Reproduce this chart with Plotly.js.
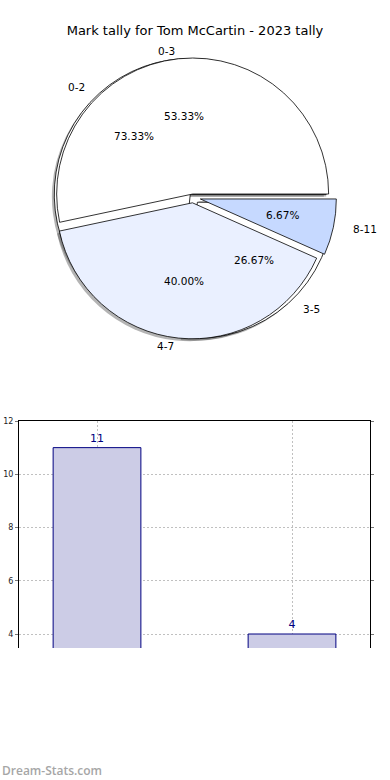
<!DOCTYPE html>
<html><head><meta charset="utf-8">
<script src="https://cdn.plot.ly/plotly-3.0.1.min.js"></script>
<style>html,body{margin:0;padding:0;background:#fff}#chart{width:390px;height:780px}</style>
</head><body><div id="chart"></div>
<script>
// ---- data ----
const chartTitle = 'Mark tally for Tom McCartin - 2023 tally';
const outerLabels = ['0-3', '4-7', '8-11'];
const outerCounts = [8, 6, 1];
const innerLabels = ['0-2', '3-5'];
const innerCounts = [11, 4];
const barCategories = ['0-2', '3-5'];
const barValues = [11, 4];
const yTickVals = [4, 6, 8, 10, 12];
const watermark = 'Dream-Stats.com';

// ---- styles ----
const outerColors = ['#ffffff', '#eaf0ff', '#c6d9ff'];
const innerColors = ['#ffffff', '#ffffff'];
const outerPull = [0.025, 0.04, 0.055];
const innerPull = [0.03, 0.048];
const W = 390, H = 780;
const CX = 193, CY = 197.4, R = 136;     // pie centre (px) and radius
const RX = 140, RY = 131;                // text placement scale
const SH = 2.4;                          // shadow offset px
const font = 'DejaVu Sans, sans-serif';

const maxPull = Math.max(...outerPull, ...innerPull);
const S = 2 * R * (1 + maxPull);
function dom(dx, dy) {
  return {x: [(CX + dx - S / 2) / W, (CX + dx + S / 2) / W],
          y: [1 - (CY + dy + S / 2) / H, 1 - (CY + dy - S / 2) / H]};
}
function sum(a) { return a.reduce((p, c) => p + c, 0); }

function pieTrace(labels, counts, colors, pulls, shadow) {
  const total = sum(counts);
  return {
    type: 'pie', labels: labels, values: counts, sort: false,
    direction: 'counterclockwise',
    rotation: 90 - counts[0] / total * 360,
    pull: pulls, scalegroup: 'p',
    marker: shadow ? {colors: labels.map(() => 'rgba(77,77,77,0.42)'), line: {width: 0}}
                   : {colors: colors, line: {color: '#000', width: 0.8}},
    textinfo: 'none', hoverinfo: 'none', showlegend: false,
    domain: shadow ? dom(-SH, SH) : dom(0, 0)
  };
}

const data = [
  pieTrace(innerLabels, innerCounts, innerColors, innerPull, true),
  pieTrace(outerLabels, outerCounts, outerColors, outerPull, true),
  pieTrace(innerLabels, innerCounts, innerColors, innerPull, false),
  pieTrace(outerLabels, outerCounts, outerColors, outerPull, false),
  {type: 'bar', x: barCategories, y: barValues, width: 0.45,
   marker: {color: '#ccccE6', line: {color: '#000080', width: 1}},
   text: barValues.map(String), textposition: 'outside',
   textfont: {color: '#000080', size: 11, family: font},
   hoverinfo: 'none', xaxis: 'x', yaxis: 'y', showlegend: false},
  {type: 'scatter', x: [], y: [], xaxis: 'x2', yaxis: 'y2', showlegend: false}
];

// text annotations in pie (label + percent), placed with the x2/y2 scale
const annotations = [];
function addTexts(labels, counts, pulls) {
  const total = sum(counts);
  let start = 0;
  counts.forEach((c, i) => {
    const span = c / total * 360;
    const mid = (start + span / 2) * Math.PI / 180;
    start += span;
    const cs = Math.cos(mid), sn = Math.sin(mid);
    const kl = 1.1 + pulls[i], kp = 0.6 + pulls[i];
    annotations.push({xref: 'x2', yref: 'y2', x: kl * cs, y: kl * sn, text: labels[i],
      showarrow: false, xanchor: cs > 0 ? 'left' : 'right', yanchor: 'middle',
      font: {family: font, size: 10.5, color: '#000'}});
    annotations.push({xref: 'x2', yref: 'y2', x: kp * cs, y: kp * sn,
      text: (c / total * 100).toFixed(2) + '%',
      showarrow: false, xanchor: 'center', yanchor: 'middle',
      font: {family: font, size: 10.5, color: '#000'}});
  });
}
addTexts(innerLabels, innerCounts, innerPull);
addTexts(outerLabels, outerCounts, outerPull);
annotations.push({xref: 'paper', yref: 'paper', x: 0, y: (H - 770) / H, xanchor: 'left', yanchor: 'middle',
  text: watermark, showarrow: false, font: {family: 'Open Sans, sans-serif', size: 12, color: '#a6a6a6', weight: 600}});

const gridStyle = {showgrid: true, gridcolor: '#c0c0c0', griddash: '2px,2px', gridwidth: 1, zeroline: false};
const yTop = 421, yBot = 648, y4px = 634;
const pxPerUnit = (y4px - yTop) / (12 - 4);

const layout = {
  width: W, height: H,
  margin: {l: 0, r: 0, t: 0, b: 0},
  paper_bgcolor: '#fff', plot_bgcolor: 'rgba(0,0,0,0)',
  showlegend: false,
  title: {text: chartTitle, x: 0.5, xanchor: 'center', y: 1 - 30 / H, yanchor: 'middle', yref: 'paper',
          font: {family: font, size: 13, color: '#000'}},
  xaxis: Object.assign({domain: [19 / W, 370 / W], type: 'category', categoryarray: barCategories,
    range: [-0.4, 1.4], side: 'top', anchor: 'y', showline: true, linecolor: '#000', linewidth: 1,
    showticklabels: false, ticks: ''}, gridStyle),
  yaxis: Object.assign({domain: [1 - yBot / H, 1 - yTop / H], anchor: 'x',
    range: [12 - (yBot - yTop) / pxPerUnit, 12], tickvals: yTickVals, ticktext: yTickVals.map(String),
    showline: true, mirror: 'ticks', linecolor: '#000', linewidth: 1,
    ticks: 'outside', ticklen: 3, tickcolor: '#777', tickfont: {family: font, size: 8, color: '#222'}}, gridStyle),
  xaxis2: {domain: [0, 1], anchor: 'y2', range: [-CX / RX, (W - CX) / RX], visible: false, fixedrange: true},
  yaxis2: {domain: [0, 1], anchor: 'x2', range: [-(H - CY) / RY, CY / RY], visible: false, fixedrange: true},
  annotations: annotations
};

Plotly.newPlot('chart', data, layout, {displayModeBar: false, staticPlot: true});
</script>
</body></html>
